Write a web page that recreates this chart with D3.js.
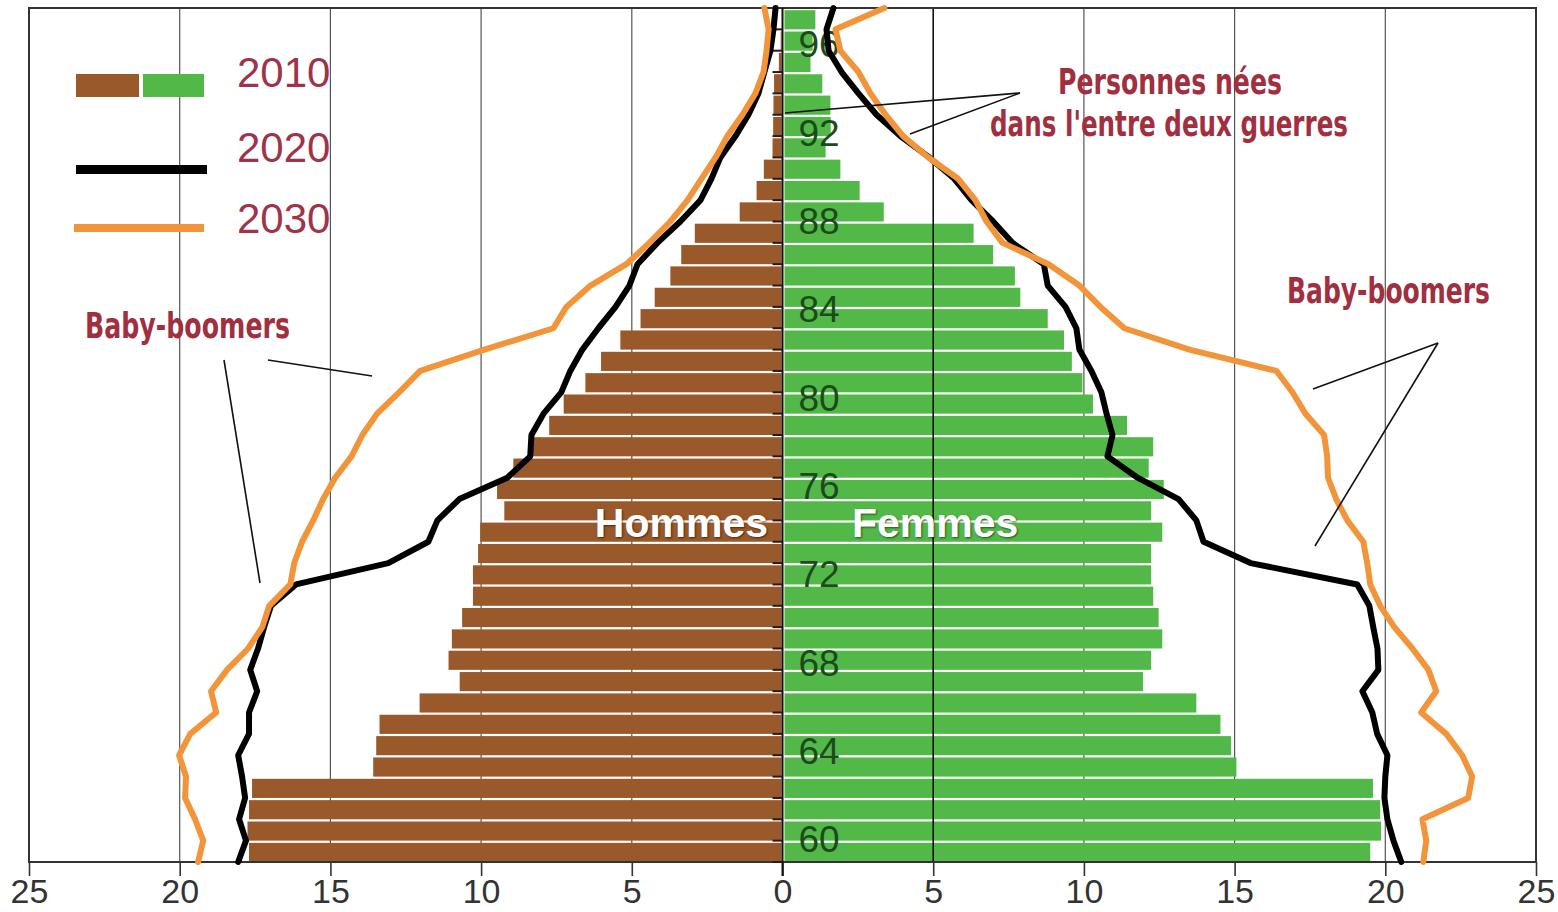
<!DOCTYPE html>
<html>
<head>
<meta charset="utf-8">
<script src="https://cdn.jsdelivr.net/npm/d3@7"></script>
<style>
  html, body { margin: 0; padding: 0; background: #fff; }
  svg { display: block; }
  .shadow { text-shadow: 1px 1px 2px rgba(0,0,0,0.55); }
</style>
</head>
<body>
<svg id="chart" width="1558" height="912"></svg>
<script>
// ---- Data ----
const ages = [60,61,62,63,64,65,66,67,68,69,70,71,72,73,74,75,76,77,78,79,
              80,81,82,83,84,85,86,87,88,89,90,91,92,93,94,95,96,97,98,99];
const men2010 = [17.7,17.75,17.7,17.6,13.58,13.48,13.37,12.04,10.71,11.08,
                 10.97,10.63,10.27,10.27,10.1,10.03,9.23,9.47,8.93,8.3,
                 7.74,7.26,6.54,6.02,5.38,4.71,4.24,3.72,3.36,2.91,
                 1.42,0.86,0.62,0.33,0.31,0.3,0.28,0.12,0.06,0.03];
const women2010 = [19.5,19.86,19.83,19.59,15.06,14.88,14.53,13.73,11.96,12.23,
                   12.6,12.48,12.3,12.23,12.23,12.6,12.23,12.65,12.15,12.3,
                   11.43,10.3,9.95,9.6,9.34,8.8,7.89,7.71,6.99,6.34,
                   3.36,2.56,1.92,1.43,1.6,1.59,1.32,0.93,1.0,1.09];
const lineAges = [60,61,62,63,64,65,66,67,68,69,70,71,72,73,74,75,76,77,78,79,80,
                  81,82,83,84,85,86,87,88,89,90,91,92,93,94,95,96,97,98,99,100];
const men2020 = [18.06,17.8,18.03,17.83,17.93,18.06,17.7,17.7,17.43,17.66,17.4,
                 17.2,16.97,16.14,13.08,11.75,11.45,10.72,9.13,8.37,8.33,
                 7.93,7.34,7.04,6.64,6.11,5.54,5.08,4.81,4.15,3.39,
                 2.72,2.36,2.06,1.56,1.13,0.8,0.6,0.4,0.3,0.23];
const women2020 = [20.53,20.27,20.07,19.97,20.0,20.07,19.73,19.57,19.24,19.77,19.74,
                   19.6,19.47,19.07,15.53,13.97,13.73,13.14,11.78,10.78,10.95,
                   10.75,10.58,10.25,9.85,9.75,9.39,8.8,8.67,7.63,6.99,
                   6.27,5.7,4.87,3.91,3.12,2.52,1.96,1.53,1.46,1.69];
const men2030 = [19.39,19.22,19.49,19.82,19.79,20.02,19.65,18.79,18.96,18.43,17.73,
                 17.26,17.03,16.33,16.2,15.94,15.57,15.24,14.84,14.3,13.94,
                 13.45,12.72,12.02,9.89,7.6,7.17,6.37,5.18,4.42,3.72,
                 3.15,2.69,2.22,1.83,1.33,0.9,0.63,0.53,0.46,0.6];
const women2030 = [21.26,21.36,21.23,22.75,22.88,22.55,22.02,21.19,21.69,21.43,20.9,
                   20.3,19.83,19.5,19.4,19.27,18.74,18.37,18.1,18.07,17.97,
                   17.35,16.92,16.39,13.5,11.34,10.55,9.85,8.83,7.3,6.77,
                   6.4,5.83,4.84,4.0,3.42,2.92,2.52,1.92,1.76,3.38];
const xTickValues = [-25,-20,-15,-10,-5,0,5,10,15,20,25];
const gridValues = [-20,-15,-10,-5,5,10,15,20];
const ageTickLabels = [60,64,68,72,76,80,84,88,92,96];
const legendYears = ["2010","2020","2030"];

// ---- Styles ----
const BROWN = "#99592a", GREEN = "#52b848", ORANGE = "#f2953a", BLACK = "#000";
const RED = "#a0303f";

const svg = d3.select("#chart");
const plot = {left: 29, right: 1536, top: 8, bottom: 862};

const x = d3.scaleLinear().domain([-25, 25]).range([plot.left, plot.right]);
const y = d3.scaleLinear().domain([60, 100]).range([plot.bottom, plot.top]);
const yLab = d3.scaleLinear().domain([60, 96]).range([839, 44]);

svg.append("rect").attr("width", 1558).attr("height", 912).attr("fill", "#fff");

// gridlines (behind bars)
svg.append("g").selectAll("line").data(gridValues.filter(d => d !== 5)).join("line")
  .attr("x1", d => x(d)).attr("x2", d => x(d))
  .attr("y1", plot.top).attr("y2", plot.bottom)
  .attr("stroke", "#555").attr("stroke-width", 1.2);

// bottom axis line
svg.append("line").attr("x1", plot.left).attr("x2", plot.right)
  .attr("y1", plot.bottom).attr("y2", plot.bottom)
  .attr("stroke", "#333").attr("stroke-width", 2);

// bars
const gap = 2.2;
svg.append("g").selectAll("rect").data(ages).join("rect")
  .attr("x", (d, i) => x(-men2010[i]))
  .attr("width", (d, i) => x(0) - 1 - x(-men2010[i]))
  .attr("y", d => y(d + 1) + gap)
  .attr("height", d => y(d) - y(d + 1) - gap)
  .attr("fill", BROWN);
svg.append("g").selectAll("rect").data(ages).join("rect")
  .attr("x", x(0) + 2)
  .attr("width", (d, i) => x(women2010[i]) - x(0) - 2)
  .attr("y", d => y(d + 1) + gap)
  .attr("height", d => y(d) - y(d + 1) - gap)
  .attr("fill", GREEN);

// gridline at +5 drawn on top of bars
svg.append("line").attr("x1", x(5)).attr("x2", x(5))
  .attr("y1", plot.top).attr("y2", plot.bottom)
  .attr("stroke", "#111").attr("stroke-width", 1.6);

// frame
svg.append("rect").attr("x", plot.left).attr("y", plot.top)
  .attr("width", plot.right - plot.left).attr("height", plot.bottom - plot.top)
  .attr("fill", "none").attr("stroke", "#333").attr("stroke-width", 2);

// bottom axis ticks + labels
const axisG = svg.append("g").attr("transform", `translate(0,${plot.bottom})`)
  .call(d3.axisBottom(x).tickValues(xTickValues).tickFormat(d => Math.abs(d))
        .tickSize(14).tickPadding(3));
axisG.select(".domain").remove();
axisG.selectAll(".tick line").attr("stroke", "#333").attr("stroke-width", 1.6);
axisG.selectAll(".tick text").attr("fill", "#333")
  .style("font-family", "'Liberation Sans', Arial, sans-serif").style("font-size", "34px");

// center vertical axis with small ticks
svg.append("line").attr("x1", x(0)).attr("x2", x(0))
  .attr("y1", plot.top).attr("y2", plot.bottom + 14)
  .attr("stroke", "#111").attr("stroke-width", 2);
svg.append("g").selectAll("line").data(lineAges.slice(0, -1)).join("line")
  .attr("x1", x(0) - 10).attr("x2", x(0))
  .attr("y1", d => y(d)).attr("y2", d => y(d))
  .attr("stroke", "#2a1a10").attr("stroke-width", 2);

// age labels
svg.append("g").selectAll("text").data(ageTickLabels).join("text")
  .attr("x", x(0) + 16).attr("y", d => yLab(d))
  .attr("dy", "0.36em")
  .attr("fill", "#1c4a1c")
  .style("font-family", "'Liberation Sans', Arial, sans-serif").style("font-size", "37px")
  .text(d => d);

// Hommes / Femmes
svg.append("text").attr("class", "shadow").attr("x", 768).attr("y", 537)
  .attr("text-anchor", "end").attr("fill", "#fff")
  .style("font-family", "'Liberation Sans', Arial, sans-serif").style("font-weight", "bold")
  .style("font-size", "41px").text("Hommes");
svg.append("text").attr("class", "shadow").attr("x", 852).attr("y", 537)
  .attr("text-anchor", "start").attr("fill", "#fff")
  .style("font-family", "'Liberation Sans', Arial, sans-serif").style("font-weight", "bold")
  .style("font-size", "41px").text("Femmes");

// lines
const lineMen = vals => d3.line().x((d, i) => x(-vals[i])).y(d => y(d));
const lineWomen = vals => d3.line().x((d, i) => x(vals[i])).y(d => y(d));
const drawLine = (gen, color) => svg.append("path").datum(lineAges)
  .attr("d", gen).attr("fill", "none").attr("stroke", color)
  .attr("stroke-width", 6).attr("stroke-linejoin", "round").attr("stroke-linecap", "round");
drawLine(lineMen(men2020), BLACK);
drawLine(lineWomen(women2020), BLACK);
drawLine(lineMen(men2030), ORANGE);
drawLine(lineWomen(women2030), ORANGE);

// legend
const lg = svg.append("g");
lg.append("rect").attr("x", 76).attr("y", 74).attr("width", 63).attr("height", 23).attr("fill", BROWN);
lg.append("rect").attr("x", 143).attr("y", 74).attr("width", 61).attr("height", 23).attr("fill", GREEN);
lg.append("line").attr("x1", 76).attr("x2", 207).attr("y1", 169.5).attr("y2", 169.5)
  .attr("stroke", BLACK).attr("stroke-width", 9);
lg.append("line").attr("x1", 74).attr("x2", 204).attr("y1", 228).attr("y2", 228)
  .attr("stroke", ORANGE).attr("stroke-width", 8);
lg.selectAll("text").data(legendYears).join("text")
  .attr("x", 237).attr("y", (d, i) => [87, 162, 233][i])
  .attr("fill", "#a0334a")
  .style("font-family", "'Liberation Sans', Arial, sans-serif").style("font-size", "42px")
  .text(d => d);

// annotations
const narrow = "'Liberation Sans Narrow', 'Arial Narrow', 'DejaVu Sans Condensed', sans-serif";
function annot(txt, xx, yy, w) {
  svg.append("text").attr("x", xx).attr("y", yy)
    .attr("textLength", w).attr("lengthAdjust", "spacingAndGlyphs")
    .attr("fill", RED).style("font-family", narrow).style("font-size", "36px")
    .style("font-weight", "bold")
    .text(txt);
}
annot("Personnes nées", 1058, 94, 224);
annot("dans l'entre deux guerres", 990, 136, 358);
annot("Baby-boomers", 85, 338, 205);
annot("Baby-boomers", 1287, 303, 203);

const pointers = [
  [[1020, 93], [785, 113]],
  [[1020, 93], [910, 134]],
  [[268, 360], [372, 376]],
  [[224, 360], [260, 583]],
  [[1438, 343], [1313, 389]],
  [[1438, 343], [1315, 546]]
];
svg.append("g").selectAll("path").data(pointers).join("path")
  .attr("d", d => d3.line()(d)).attr("stroke", "#111").attr("stroke-width", 1.6).attr("fill", "none");
</script>
</body>
</html>
